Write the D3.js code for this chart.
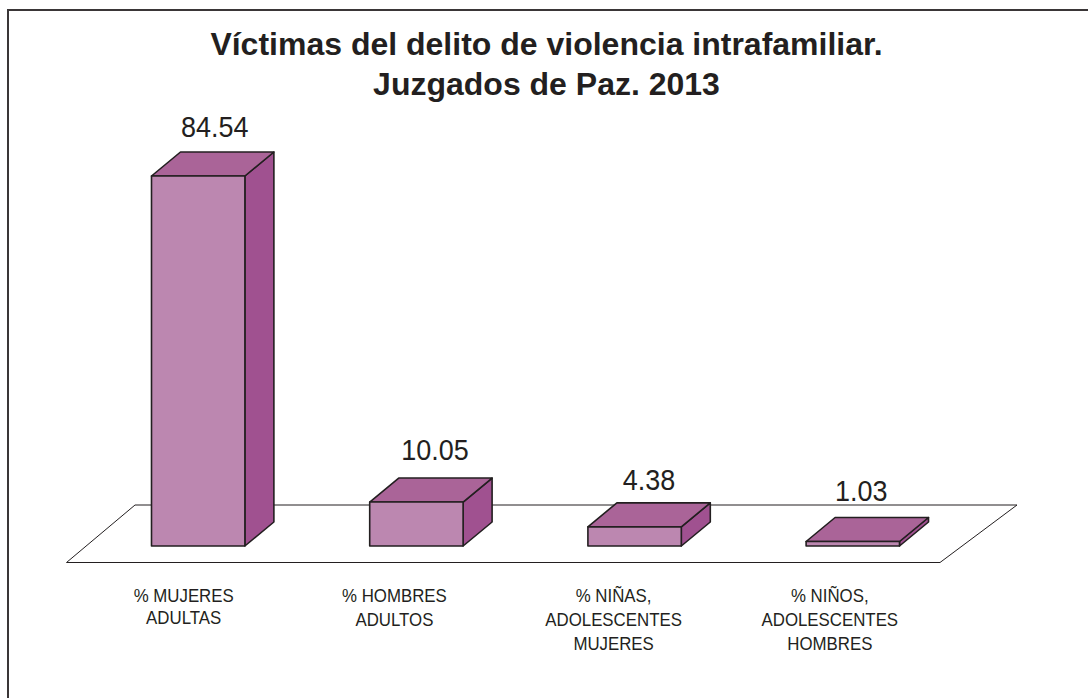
<!DOCTYPE html>
<html>
<head>
<meta charset="utf-8">
<script src="https://cdn.jsdelivr.net/npm/d3@7"></script>
<style>
  html, body { margin: 0; padding: 0; background: #fff; }
  svg { display: block; }
  text { font-family: "Liberation Sans", Arial, sans-serif; fill: #231f20; }
</style>
</head>
<body>
<svg width="1088" height="698" viewBox="0 0 1088 698"></svg>
<script>
// data
var titleLines = ["Víctimas del delito de violencia intrafamiliar.", "Juzgados de Paz. 2013"];
var categories = ["mujeres", "hombres", "ninas", "ninos"];
var values = [84.54, 10.05, 4.38, 1.03];
var valueLabels = ["84.54", "10.05", "4.38", "1.03"];
var categoryLines = [
  ["% MUJERES", "ADULTAS"],
  ["% HOMBRES", "ADULTOS"],
  ["% NIÑAS,", "ADOLESCENTES", "MUJERES"],
  ["% NIÑOS,", "ADOLESCENTES", "HOMBRES"]
];

var canvas = d3.select("svg");

// scales
var x = d3.scaleBand().domain(categories).range([151.5, 899.5]).paddingInner(0.572).paddingOuter(0);
var y = d3.scaleLinear().domain([0, 84.54]).range([546, 176]);

// depth of the fake 3d
var depthX = 29, depthY = -24;

// squeeze text horizontally, the original font is narrower than Liberation
function squeeze(sel, factor) {
  sel.each(function() {
    var w = this.getComputedTextLength();
    d3.select(this).attr("textLength", w * factor).attr("lengthAdjust", "spacingAndGlyphs");
  });
}

// frame, runs off the page on the right and bottom
canvas.append("rect")
  .attr("x", 8).attr("y", 10)
  .attr("width", 1100).attr("height", 720)
  .attr("fill", "none").attr("stroke", "#3a3637").attr("stroke-width", 2);

// title
canvas.selectAll("text.title")
  .data(titleLines)
  .enter().append("text")
  .attr("class", "title")
  .attr("x", 546.5)
  .attr("y", function(d, i) { return 55 + i * 40; })
  .attr("text-anchor", "middle")
  .style("font-size", "32px")
  .style("font-weight", "bold")
  .text(function(d) { return d; });

// floor
var floorPts = [[66.5, 562.5], [940, 562.5], [1017, 505], [135, 505]];
canvas.append("path")
  .attr("d", d3.line()(floorPts) + "Z")
  .attr("fill", "#fff").attr("stroke", "#231f20").attr("stroke-width", 1);

// bars
var bars = canvas.selectAll("g.bar")
  .data(categories)
  .enter().append("g")
  .attr("class", "bar");

function face(fn) {
  return function(d, i) { return d3.line()(fn(x(d), x(d) + x.bandwidth(), y(values[i]), y(0))) + "Z"; };
}

bars.append("path")
  .attr("d", face(function(l, r, t, b) {
    return [[r, t], [r + depthX, t + depthY], [r + depthX, b + depthY], [r, b]];
  }))
  .attr("fill", "#a05190");

bars.append("path")
  .attr("d", face(function(l, r, t, b) {
    return [[l, t], [l + depthX, t + depthY], [r + depthX, t + depthY], [r, t]];
  }))
  .attr("fill", "#aa6498");

bars.append("path")
  .attr("d", face(function(l, r, t, b) {
    return [[l, t], [r, t], [r, b], [l, b]];
  }))
  .attr("fill", "#bc87b0");

bars.selectAll("path")
  .attr("stroke", "#231f20").attr("stroke-width", 1.6).attr("stroke-linejoin", "round");

// value labels
var valueNudgeX = [2, 4, 0, -6], valueNudgeY = [-15, -18, -13, -16];
canvas.selectAll("text.value")
  .data(valueLabels)
  .enter().append("text")
  .attr("class", "value")
  .attr("x", function(d, i) { return x(categories[i]) + x.bandwidth() / 2 + depthX / 2 + valueNudgeX[i]; })
  .attr("y", function(d, i) { return y(values[i]) + depthY + valueNudgeY[i]; })
  .attr("text-anchor", "middle")
  .style("font-size", "29px")
  .text(function(d) { return d; })
  .call(squeeze, 0.93);

// category labels, they sit a bit left of the bars in the original
var labelShift = [-14.5, -22, -21, -23];
var lineGap = [22, 24, 24, 24];
var labels = canvas.selectAll("g.cat")
  .data(categoryLines)
  .enter().append("g")
  .attr("class", "cat");

labels.each(function(lines, i) {
  d3.select(this).selectAll("text")
    .data(lines)
    .enter().append("text")
    .attr("x", x(categories[i]) + x.bandwidth() / 2 + labelShift[i])
    .attr("y", function(d, j) { return 602 + j * lineGap[i]; })
    .attr("text-anchor", "middle")
    .style("font-size", "18.5px")
    .text(function(d) { return d; })
    .call(squeeze, 0.91);
});
</script>
</body>
</html>
